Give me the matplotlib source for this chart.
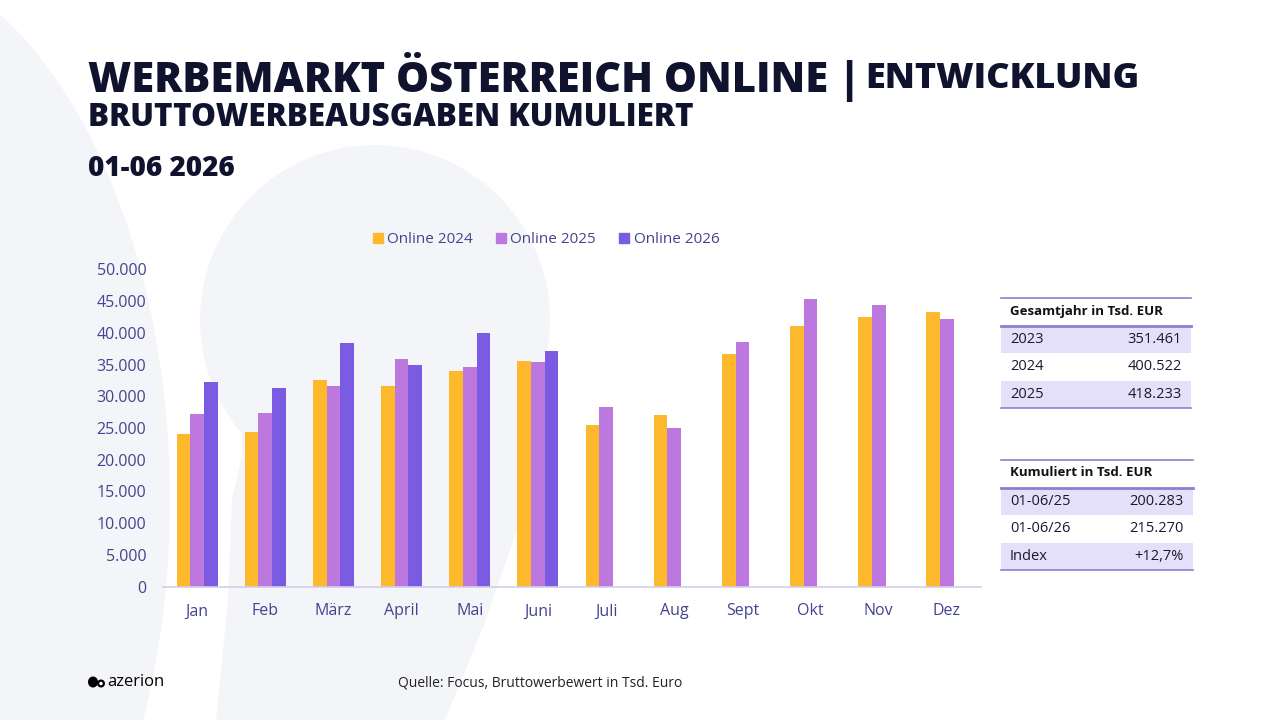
import numpy as np
import matplotlib
matplotlib.use("Agg")
import matplotlib.pyplot as plt
from matplotlib.patches import Rectangle, Ellipse, Circle, Polygon

# Daten (Tsd. EUR, aus dem Bild geschaetzt)
months = ["Jan", "Feb", "März", "April", "Mai", "Juni", "Juli", "Aug", "Sept", "Okt", "Nov", "Dez"]
online_2024 = [24100, 24400, 32600, 31600, 34000, 35600, 25500, 27100, 36700, 41000, 42500, 43200]
online_2025 = [27200, 27400, 31600, 35900, 34600, 35400, 28300, 25000, 38600, 45400, 44300, 42200]
online_2026 = [32300, 31300, 38400, 35000, 40000, 37200]
series_names = ["Online 2024", "Online 2025", "Online 2026"]

yticks = [0, 5000, 10000, 15000, 20000, 25000, 30000, 35000, 40000, 45000, 50000]

tab1_title = "Gesamtjahr in Tsd. EUR"
tab1_keys = ["2023", "2024", "2025"]
tab1_vals = ["351.461", "400.522", "418.233"]
tab2_title = "Kumuliert in Tsd. EUR"
tab2_keys = ["01-06/25", "01-06/26", "Index"]
tab2_vals = ["200.283", "215.270", "+12,7%"]

c24 = "#FDB92B"
c25 = "#BD78E0"
c26 = "#7A5BE1"
navy = "#10132E"
tickc = "#44448E"
bgshape = "#F4F5F8"
linec = "#8A80D2"
rowc = "#E4E0FA"

W, H = 1280, 720
def fx(x):
    return x / W
def fy(y):
    return 1 - y / H

plt.rcParams["font.family"] = ["Open Sans", "DejaVu Sans"]

fig = plt.figure(figsize=(12.8, 7.2), dpi=100)
fig.patch.set_facecolor("white")

# Hintergrundformen (Logo-Silhouette)
bg = fig.add_axes([0, 0, 1, 1], zorder=-5)
bg.set_xlim(0, W)
bg.set_ylim(H, 0)
bg.axis("off")
bg.add_patch(Ellipse((-150, 500), 640, 1100, color=bgshape, lw=0))
bg.add_patch(Circle((375, 320), 175, color=bgshape, lw=0))
bg.add_patch(Polygon([(240, 330), (548, 330), (542, 430), (517, 530), (482, 630),
                      (445, 720), (216, 720), (228, 600), (232, 500), (242, 455)],
                     closed=True, color=bgshape, lw=0))

# Titel
renderer = fig.canvas.get_renderer()
t1 = fig.text(fx(88), fy(77), "WERBEMARKT ÖSTERREICH ONLINE |", fontsize=30, fontweight="heavy",
              color=navy, va="center", ha="left")
bb = t1.get_window_extent(renderer)
fig.text(bb.x1 / W + fx(5), fy(79), "ENTWICKLUNG", fontsize=26, fontweight="heavy",
         color=navy, va="center", ha="left")
fig.text(fx(88), fy(118), "BRUTTOWERBEAUSGABEN KUMULIERT", fontsize=22.6, fontweight="heavy",
         color=navy, va="center", ha="left")
fig.text(fx(88), fy(169), "01-06 2026", fontsize=20, fontweight="heavy",
         color=navy, va="center", ha="left")

# Balkendiagramm
ax = fig.add_axes([fx(163), fy(586.7), fx(981 - 163), (586.7 - 269.3) / H])
ax.patch.set_alpha(0)
x = np.arange(len(months))
bw = 0.2
ax.bar(x - bw, online_2024, bw, color=c24, label=series_names[0])
ax.bar(x, online_2025, bw, color=c25, label=series_names[1])
ax.bar(x[:len(online_2026)] + bw, online_2026, bw, color=c26, label=series_names[2])

ax.set_xlim(-0.5, len(months) - 0.5)
ax.set_ylim(0, 50000)
ax.set_yticks(yticks)
ax.set_yticklabels([f"{v:,}".replace(",", ".") for v in yticks])
ax.set_xticks(x)
ax.set_xticklabels(months)
ax.tick_params(length=0, labelsize=11.5, labelcolor=tickc)
ax.tick_params(axis="y", pad=12)
ax.tick_params(axis="x", pad=12)
for s in ["top", "right", "left"]:
    ax.spines[s].set_visible(False)
ax.spines["bottom"].set_color("#D2CEEA")
ax.spines["bottom"].set_linewidth(1.2)

handles = [Rectangle((0, 0), 1, 1, color=c) for c in (c24, c25, c26)]
fig.legend(handles, series_names, loc="center", bbox_to_anchor=(fx(546), fy(240)),
           ncol=3, frameon=False, fontsize=11, labelcolor=tickc,
           handlelength=0.65, handleheight=0.65, handletextpad=0.3, columnspacing=1.5)

# Tabellen
def draw_table(top, x0, x1, title, keys, vals):
    row_h = 27.3
    hdr_bottom = top + 28
    for i in range(len(keys)):
        y0 = hdr_bottom + i * row_h
        if i % 2 == 0:
            bg.add_patch(Rectangle((x0, y0), x1 - x0, row_h, color=rowc, lw=0))
        bg.text(x0 + 9, y0 + row_h / 2, keys[i], fontsize=10.5, color="#1A1A2A",
                va="center", ha="left")
        bg.text(x1 - 9, y0 + row_h / 2, vals[i], fontsize=10.5, color="#1A1A2A",
                va="center", ha="right")
    bottom = hdr_bottom + len(keys) * row_h
    bg.plot([x0, x1], [top, top], color=linec, lw=1.2)
    bg.plot([x0, x1], [hdr_bottom, hdr_bottom], color=linec, lw=2)
    bg.plot([x0, x1], [bottom, bottom], color=linec, lw=1.2)
    bg.text(x0 + 9, top + 13, title, fontsize=9.5, fontweight="bold", color="#111111",
            va="center", ha="left")

draw_table(298, 1001, 1191, tab1_title, tab1_keys, tab1_vals)
draw_table(460, 1001, 1193, tab2_title, tab2_keys, tab2_vals)

# Fusszeile
bg.add_patch(Ellipse((93, 682), 10, 11, color="black", lw=0))
bg.add_patch(Ellipse((101, 683.5), 8, 8, color="black", lw=0))
bg.add_patch(Ellipse((101, 683.5), 3.5, 3.5, color="white", lw=0))
bg.text(107, 682, "azerion", fontsize=12, color="black", va="center", ha="left")
bg.text(398, 683, "Quelle: Focus, Bruttowerbewert in Tsd. Euro", fontsize=10,
        color="#222222", va="center", ha="left")

fig.savefig("out.png", dpi=100)
